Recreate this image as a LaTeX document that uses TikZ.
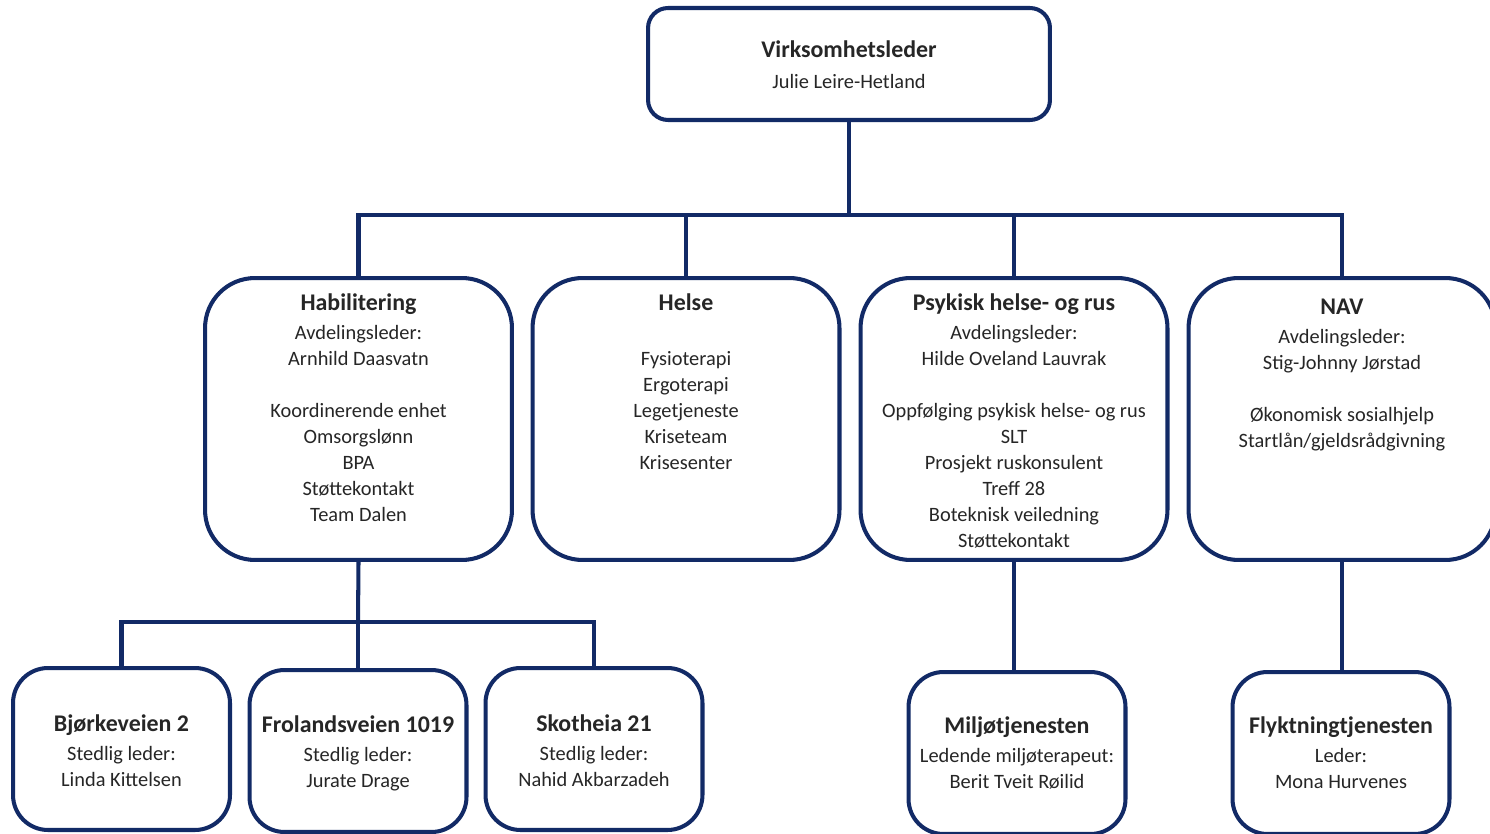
\documentclass[tikz,border=0pt]{standalone}
\usepackage{fontspec}
\setmainfont{Carlito}
\definecolor{navy}{RGB}{18,42,102}
\newcommand{\ttl}[1]{{\bfseries\fontsize{13.6}{14.8}\selectfont #1}}
\begin{document}
\begin{tikzpicture}[x=0.02cm,y=-0.02cm,
  box/.style={draw=navy,line width=2.3pt,fill=white,inner sep=0pt},
  topbox/.style={box,minimum width=8.04cm,minimum height=2.24cm,rounded corners=0.4cm},
  unitbox/.style={box,minimum width=6.14cm,minimum height=5.64cm,rounded corners=1cm},
  sitebox/.style={box,minimum width=4.34cm,minimum height=3.24cm,rounded corners=0.7cm},
  lbl/.style={align=center,inner sep=0pt,font=\fontsize{11.6}{14.8}\selectfont,text=black!85},
  link/.style={draw=navy,line width=2.3pt}]
  \useasboundingbox (0,0) rectangle (1490,834);
  % top
  \node[topbox] (top) at (849,64) {};
  \node[lbl,anchor=north] (toptxt) at (849,40) {\ttl{Virksomhetsleder}\\[0.1cm]Julie Leire-Hetland};
  % departments
  \node[unitbox] (hab) at (358.5,419) {};
  \node[unitbox] (helse) at (686,419) {};
  \node[unitbox] (psyk) at (1014,419) {};
  \node[unitbox] (nav) at (1342,419) {};
  \node[lbl,anchor=north] (habtxt) at (358.5,293) {\ttl{Habilitering}\\[0.06cm]Avdelingsleder:\\Arnhild Daasvatn\\[0.52cm]Koordinerende enhet\\Omsorgslønn\\BPA\\Støttekontakt\\Team Dalen};
  \node[lbl,anchor=north] (helsetxt) at (686,293) {\ttl{Helse}\\[0.06cm]\mbox{}\\Fysioterapi\\Ergoterapi\\Legetjeneste\\Kriseteam\\Krisesenter};
  \node[lbl,anchor=north] (psyktxt) at (1014,293) {\ttl{Psykisk helse- og rus}\\[0.06cm]Avdelingsleder:\\Hilde Oveland Lauvrak\\[0.52cm]Oppfølging psykisk helse- og rus\\SLT\\Prosjekt ruskonsulent\\Treff 28\\Boteknisk veiledning\\Støttekontakt};
  \node[lbl,anchor=north] (navtxt) at (1342,299) {\ttl{NAV}\\[0.06cm]Avdelingsleder:\\Stig-Johnny Jørstad\\[0.52cm]Økonomisk sosialhjelp\\Startlån/gjeldsrådgivning};
  % sites
  \node[sitebox] (bjork) at (121.5,749) {};
  \node[sitebox] (frol) at (358,751) {};
  \node[sitebox] (skot) at (594,749) {};
  \node[sitebox] (milj) at (1017,753) {};
  \node[sitebox] (flykt) at (1341,753) {};
  \node[lbl] (bjorktxt) at (121.5,751) {\ttl{Bjørkeveien 2}\\[0.06cm]Stedlig leder:\\Linda Kittelsen};
  \node[lbl] (froltxt) at (358,753) {\ttl{Frolandsveien 1019}\\[0.06cm]Stedlig leder:\\Jurate Drage};
  \node[lbl] (skottxt) at (594,751) {\ttl{Skotheia 21}\\[0.06cm]Stedlig leder:\\Nahid Akbarzadeh};
  \node[lbl] (miljtxt) at (1017,753) {\ttl{Miljøtjenesten}\\[0.06cm]Ledende miljøterapeut:\\Berit Tveit Røilid};
  \node[lbl] (flykttxt) at (1341,753) {\ttl{Flyktningtjenesten}\\[0.06cm]Leder:\\Mona Hurvenes};
  % connectors
  \coordinate (bus) at (849,215);
  \coordinate (habbus) at (358,622);
  \draw[link] (top.south) -- (bus);
  \draw[link] (hab.north) -- (hab.north |- bus) -- (nav.north |- bus) -- (nav.north);
  \draw[link] (helse.north) -- (helse.north |- bus);
  \draw[link] (psyk.north) -- (psyk.north |- bus);
  \draw[link] (hab.south) -- (habbus);
  \draw[link] (bjork.north) -- (bjork.north |- habbus) -- (skot.north |- habbus) -- (skot.north);
  \draw[link] (frol.north) -- (frol.north |- habbus);
  \draw[link] (psyk.south) -- (psyk.south |- milj.north);
  \draw[link] (nav.south) -- (nav.south |- flykt.north);
\end{tikzpicture}
\end{document}
